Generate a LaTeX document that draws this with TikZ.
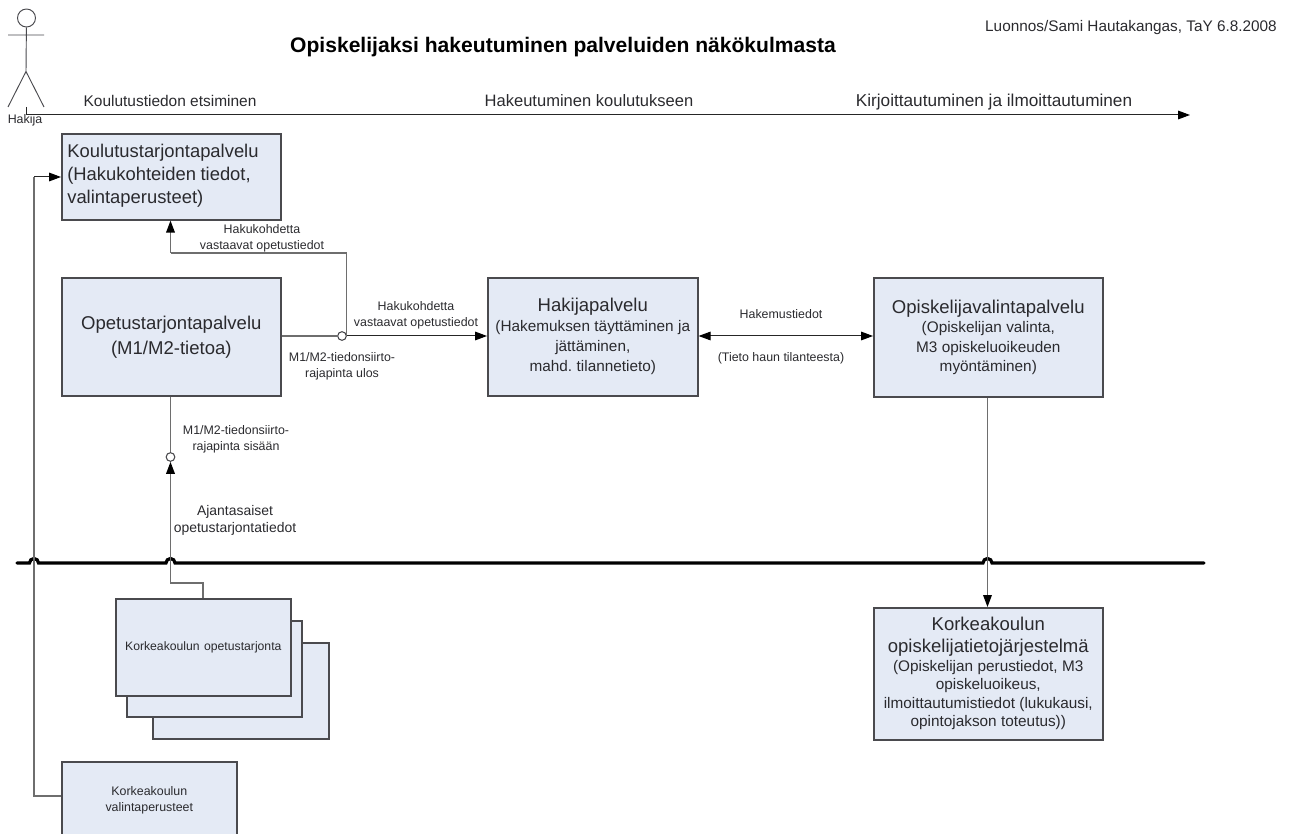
\documentclass[tikz,border=0pt]{standalone}
\usepackage{fontspec}
\setmainfont{Liberation Sans}
\usetikzlibrary{arrows.meta,positioning}
\definecolor{boxfill}{HTML}{E4EAF5}
\definecolor{boxedge}{HTML}{4A4A4E}
\definecolor{conn}{HTML}{6E6E6E}
\definecolor{txt}{HTML}{2A2A2E}
\newcommand{\fsb}[2]{\fontsize{#1}{#2}\selectfont}
\tikzset{
  x=0.75pt,y=-0.75pt,
  svc/.style={draw=boxedge,line width=1.2pt,fill=boxfill,inner sep=0pt,text=txt,align=center},
  lab/.style={inner sep=0pt,text=txt,align=center,font=\fsb{9.3}{11.8}},
  phase/.style={inner sep=0pt,text=txt,anchor=base},
  wire/.style={draw=conn,line width=1.0pt},
  darkwire/.style={draw=black!85,line width=0.75pt},
  tip/.style={-{Triangle[length=9pt,width=6.5pt,color=black]}},
  ball/.style={circle,draw=boxedge,fill=white,line width=0.8pt,minimum size=6.5pt,inner sep=0pt},
  busline/.style={draw=black,line width=2.4pt,line cap=round},
}
\newcommand{\boxat}[6]{\node[svc,minimum width=#4*0.75pt-#2*0.75pt,minimum height=#5*0.75pt-#3*0.75pt,text width=#4*0.75pt-#2*0.75pt-4pt,anchor=north west] (#1) at (#2,#3) {\frenchspacing #6\par};}
\begin{document}
\begin{tikzpicture}
\useasboundingbox (0,0) rectangle (1293,834);
% header
\node[inner sep=0pt,font=\bfseries\fsb{15.8}{18},text=black] (title) at (563,47) {Opiskelijaksi hakeutuminen palveluiden näkökulmasta};
\node[inner sep=0pt,anchor=east,font=\fsb{11.5}{13},text=txt] (author) at (1277,27.5) {Luonnos/Sami Hautakangas, TaY 6.8.2008};
% actor
\node[circle,draw=boxedge,line width=0.7pt,minimum size=13.5pt,inner sep=0pt] (head) at (26.5,18) {};
\coordinate (hip) at (26,71.5);
\coordinate (armL) at (8,35);
\coordinate (armR) at (44,35);
\coordinate (legL) at (8,107);
\coordinate (legR) at (44,107);
\coordinate (tl0) at (26,107);
\coordinate (tl1) at (26,115);
\coordinate (tl2) at (1190,115);
\draw[draw=boxedge,line width=0.7pt] (head) -- (hip) (armL) -- (armR) (legL) -- (hip) -- (legR);
\node[inner sep=0pt,font=\fsb{9.3}{11},text=txt] (hakija) at (25,120) {Hakija};
\draw[darkwire,tip] (tl0) -- (tl1) -- (tl2);
\node[phase,font=\fsb{11.6}{13}] (ph1) at (170,106.5) {Koulutustiedon etsiminen};
\node[phase,font=\fsb{12.4}{14}] (ph2) at (589,106.5) {Hakeutuminen koulutukseen};
\node[phase,font=\fsb{12.9}{15}] (ph3) at (994,106.5) {Kirjoittautuminen ja ilmoittautuminen};
% stack
\boxat{s3}{152}{642}{328}{738}{}
\boxat{s2}{126}{620}{301}{716}{}
\boxat{s1}{115}{598}{290}{695}{\fsb{9.15}{11}Korkeakoulun opetustarjonta}
% services
\node[svc,minimum width=164.25pt,minimum height=64.5pt,anchor=north west,align=left,text width=156pt] (koul) at (61,133) {\fsb{13.8}{17.4}Koulutustarjontapalvelu\\(Hakukohteiden tiedot,\\valintaperusteet)\par\vspace{2pt}};
\boxat{opet}{61}{277}{280}{395}{\fsb{13.9}{18.8}Opetustarjontapalvelu\\(M1/M2-tietoa)}
\boxat{haki}{487}{277}{697}{395}{\fsb{13.9}{17}Hakijapalvelu\\\fsb{11.5}{15}(Hakemuksen täyttäminen ja\\jättäminen,\\mahd. tilannetieto)}
\boxat{opva}{873}{277}{1102}{396}{\fsb{13.9}{17}Opiskelijavalintapalvelu\\\fsb{11.5}{14.4}(Opiskelijan valinta,\\M3 opiskeluoikeuden\\myöntäminen)}
\boxat{jarj}{873}{607}{1102}{739}{\fsb{13.9}{16.3}Korkeakoulun\\opiskelijatietojärjestelmä\\\fsb{11.5}{13.9}(Opiskelijan perustiedot, M3\\opiskeluoikeus,\\ilmoittautumistiedot (lukukausi,\\opintojakson toteutus))}
\boxat{vali}{61}{761}{236}{838}{\fsb{9.3}{11.3}Korkeakoulun\\valintaperusteet}
% bus
\coordinate (busL) at (17,563);
\coordinate (busR) at (1204,563);
\draw[busline] (busL) -- (29.5,563) arc[start angle=180,end angle=360,radius=4.5] -- (166,563) arc[start angle=180,end angle=360,radius=4.5] -- (983,563) arc[start angle=180,end angle=360,radius=4.5] -- (busR);
% connectors
\coordinate (v1) at (34,796);
\coordinate (v2) at (34,177);
\draw[wire] (vali.west |- v1) -- (v1) -- (v2);
\draw[darkwire,tip] (v2) -- (koul.west |- v2);
\node[ball] (b1) at (342,336) {};
\node[ball] (b2) at (170.5,457) {};
\coordinate (t1) at (346.5,253);
\coordinate (t2) at (170.5,253);
\coordinate (t0) at (346.5,336);
\draw[wire] (opet.east |- b1) -- (b1);
\draw[darkwire,tip] (b1) -- (haki.west |- b1);
\draw[wire] (t0) -- (t1) -- (t2);
\draw[wire,tip] (t2) -- (koul.south -| t2);
\draw[wire] (opet.south -| b2) -- (b2);
\coordinate (c2) at (203,583);
\coordinate (c3) at (170.5,583);
\coordinate (c4) at (170.5,560);
\draw[wire] (s1.north -| c2) -- (c2) -- (c3) -- (c4);
\draw[wire,tip] (c4) -- (b2.south);
\coordinate (d1) at (987.5,566);
\draw[wire] (opva.south -| d1) -- (d1);
\draw[wire,tip] (d1) -- (jarj.north -| d1);
\coordinate (hk) at (780,336);
\draw[darkwire,{Triangle[length=9pt,width=6.5pt,color=black]}-{Triangle[length=9pt,width=6.5pt,color=black]}] (haki.east |- hk) -- (opva.west |- hk);
% labels
\node[lab] (l1) at (262,238) {Hakukohdetta\\vastaavat opetustiedot};
\node[lab] (l2) at (416,315) {Hakukohdetta\\vastaavat opetustiedot};
\node[lab] (l3) at (342,366.5) {M1/M2-tiedonsiirto-\\rajapinta ulos};
\node[lab] (l4) at (236,439) {M1/M2-tiedonsiirto-\\rajapinta sisään};
\node[lab,font=\fsb{10.45}{12.7}] (l5) at (235,520) {Ajantasaiset\\opetustarjontatiedot};
\node[lab] (l6) at (781,314) {Hakemustiedot};
\node[lab] (l7) at (781,358.5) {(Tieto haun tilanteesta)};
\end{tikzpicture}
\end{document}
